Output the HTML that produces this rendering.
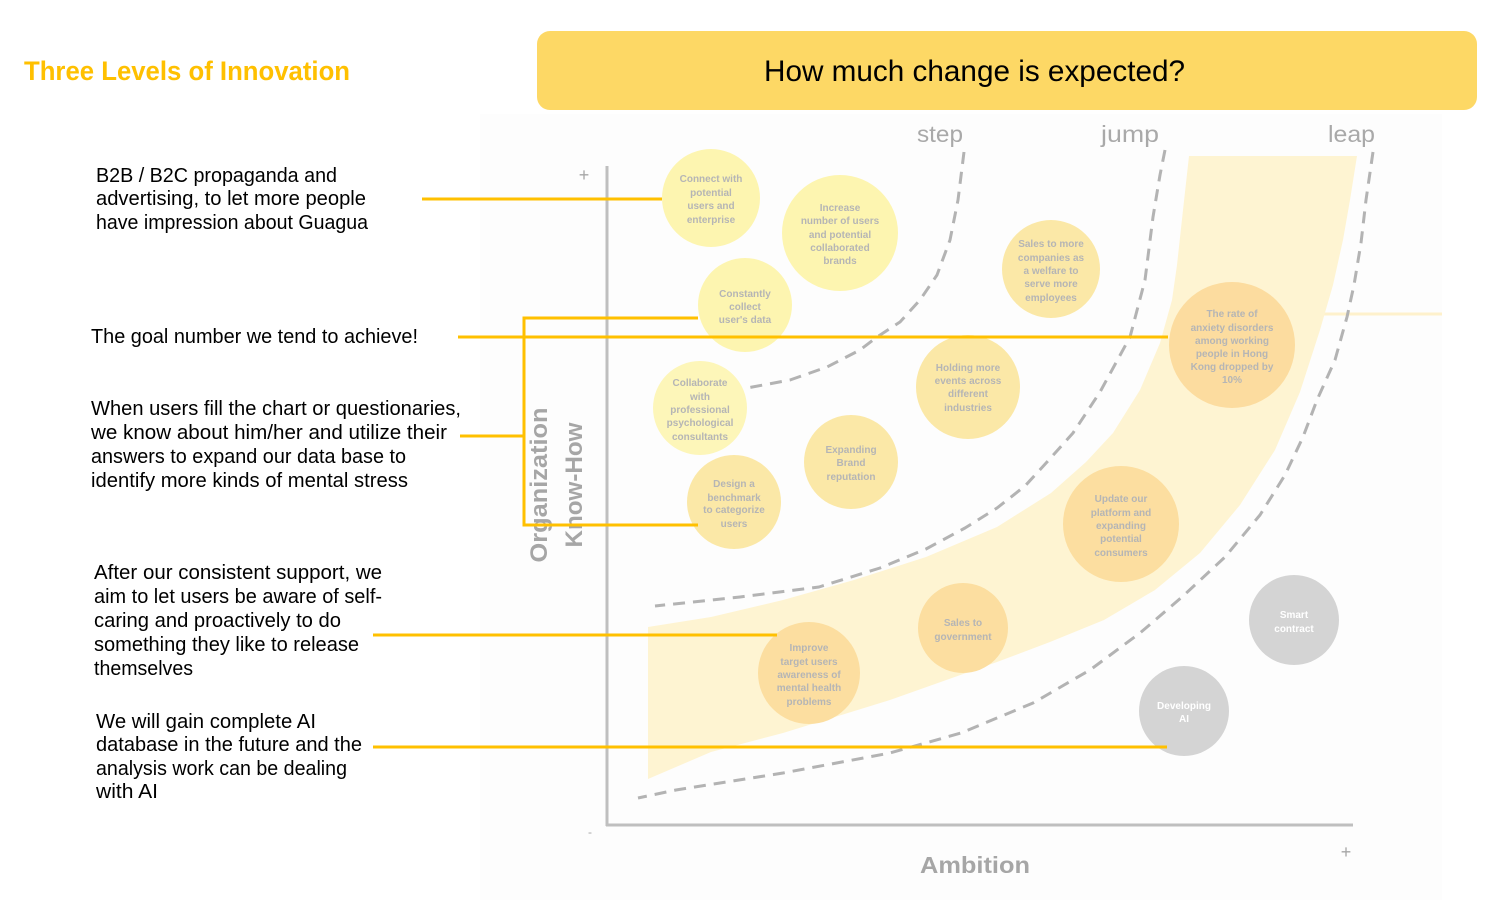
<!DOCTYPE html>
<html>
<head>
<meta charset="utf-8">
<style>
  html,body{margin:0;padding:0;background:#ffffff;}
  body{width:1500px;height:900px;overflow:hidden;}
  svg{display:block;}
  .lt{font-family:"Liberation Sans",sans-serif;font-size:20px;fill:#000;}
  .ct{font-family:"Liberation Sans",sans-serif;font-size:10px;font-weight:bold;fill:#b5b5b5;text-anchor:middle;}
  .cw{font-family:"Liberation Sans",sans-serif;font-size:10px;font-weight:bold;fill:#ffffff;text-anchor:middle;}
  .lv{font-family:"Liberation Sans",sans-serif;font-size:23px;fill:#a9a9a9;}
  .ax{font-family:"Liberation Sans",sans-serif;font-weight:bold;fill:#a6a6a6;}
</style>
</head>
<body>
<svg width="1500" height="900" viewBox="0 0 1500 900" xmlns="http://www.w3.org/2000/svg">
  <rect x="0" y="0" width="1500" height="900" fill="#ffffff"/>
  <!-- faint panel -->
  <rect x="480" y="114" width="962" height="786" fill="#fdfdfd"/>

  <!-- title -->
  <text x="24" y="80" font-family="Liberation Sans, sans-serif" font-size="27" font-weight="bold" fill="#FFC000" textLength="326" lengthAdjust="spacingAndGlyphs">Three Levels of Innovation</text>

  <!-- header box -->
  <rect x="537" y="31" width="940" height="79" rx="13" ry="13" fill="#FDD865"/>
  <text x="764" y="81" font-family="Liberation Sans, sans-serif" font-size="30" fill="#000" textLength="421" lengthAdjust="spacingAndGlyphs">How much change is expected?</text>

  <!-- level labels -->
  <text class="lv" x="917" y="142" textLength="46" lengthAdjust="spacingAndGlyphs">step</text>
  <text class="lv" x="1101" y="142" textLength="58" lengthAdjust="spacingAndGlyphs">jump</text>
  <text class="lv" x="1328" y="142" textLength="47" lengthAdjust="spacingAndGlyphs">leap</text>

  <!-- faint line at right -->
  <line x1="1322" y1="314" x2="1442" y2="314" stroke="#FEF1CC" stroke-width="3"/>

  <!-- band -->
  <polygon fill="#FEF4D2" points="648,627 711,617 783,600 854,580 926,557 997,527 1051,493 1086,462 1113,433 1140,390 1160,343 1172,300 1177,265 1183,210 1189,156 1357,156 1350,200 1343,240 1333,285 1320,330 1300,392 1275,450 1240,505 1200,553 1155,590 1104,620 1050,642 997,662 890,700 783,733 711,752 648,779"/>

  <!-- dashed curves -->
  <g fill="none" stroke="#b3b3b3" stroke-width="3" stroke-dasharray="12,8" stroke-linejoin="round">
    <polyline points="964,152 958,200 950,240 937,275 920,300 900,322 877,337 860,350 827,367 790,380 747,388"/>
    <polyline points="1165,150 1160,175 1153,217 1145,280 1130,337 1100,392 1073,433 1047,462 1025,486 997,508 965,528 926,549 880,568 819,587 740,597 655,606"/>
    <polyline points="1373,152 1366,200 1361,243 1354,285 1347,317 1335,360 1317,400 1303,437 1285,475 1260,515 1225,557 1182,597 1140,633 1090,670 1033,703 961,733 890,753 783,773 676,790 638,798"/>
  </g>

  <!-- axes -->
  <line x1="607" y1="166" x2="607" y2="826" stroke="#bfbfbf" stroke-width="3"/>
  <line x1="606" y1="825" x2="1353" y2="825" stroke="#bfbfbf" stroke-width="3"/>
  <text x="584" y="181" font-family="Liberation Sans, sans-serif" font-size="18" fill="#a6a6a6" text-anchor="middle">+</text>
  <text x="1346" y="858" font-family="Liberation Sans, sans-serif" font-size="18" fill="#a6a6a6" text-anchor="middle">+</text>
  <text x="590" y="836" font-family="Liberation Sans, sans-serif" font-size="12" fill="#a6a6a6" text-anchor="middle">-</text>
  <text class="ax" x="975" y="873" font-size="23" text-anchor="middle" textLength="110" lengthAdjust="spacingAndGlyphs">Ambition</text>
  <text class="ax" font-size="24" text-anchor="middle" transform="translate(547,485) rotate(-90)" textLength="155" lengthAdjust="spacingAndGlyphs">Organization</text>
  <text class="ax" font-size="24" text-anchor="middle" transform="translate(582,485) rotate(-90)" textLength="125" lengthAdjust="spacingAndGlyphs">Know-How</text>

  <!-- circles -->
  <circle cx="711" cy="198" r="49" fill="#FDF5B0"/>
  <circle cx="840" cy="233" r="58" fill="#FDF5B0"/>
  <circle cx="745" cy="305" r="47" fill="#FDF5B0"/>
  <circle cx="700" cy="408" r="47" fill="#FDF6B9"/>
  <circle cx="734" cy="502" r="47" fill="#FBE8A7"/>
  <circle cx="851" cy="462" r="47" fill="#FBE8A7"/>
  <circle cx="968" cy="387" r="52" fill="#FBE8A7"/>
  <circle cx="1051" cy="269" r="49" fill="#FBE8A7"/>
  <circle cx="1232" cy="345" r="63" fill="#FCDC9F"/>
  <circle cx="1121" cy="524" r="58" fill="#FCDEA0"/>
  <circle cx="963" cy="628" r="45" fill="#FCDEA0"/>
  <circle cx="809" cy="673" r="51" fill="#FCDEA0"/>
  <circle cx="1294" cy="620" r="45" fill="#D4D4D4"/>
  <circle cx="1184" cy="711" r="45" fill="#D4D4D4"/>

  <!-- circle texts -->
  <g class="ct">
    <text x="711" y="182">Connect with</text>
    <text x="711" y="196">potential</text>
    <text x="711" y="209">users and</text>
    <text x="711" y="223">enterprise</text>

    <text x="840" y="211">Increase</text>
    <text x="840" y="224">number of users</text>
    <text x="840" y="238">and potential</text>
    <text x="840" y="251">collaborated</text>
    <text x="840" y="264">brands</text>

    <text x="745" y="297">Constantly</text>
    <text x="745" y="310">collect</text>
    <text x="745" y="323">user's data</text>

    <text x="700" y="386">Collaborate</text>
    <text x="700" y="400">with</text>
    <text x="700" y="413">professional</text>
    <text x="700" y="426">psychological</text>
    <text x="700" y="440">consultants</text>

    <text x="734" y="487">Design a</text>
    <text x="734" y="501">benchmark</text>
    <text x="734" y="513">to categorize</text>
    <text x="734" y="527">users</text>

    <text x="851" y="453">Expanding</text>
    <text x="851" y="466">Brand</text>
    <text x="851" y="480">reputation</text>

    <text x="968" y="371">Holding more</text>
    <text x="968" y="384">events across</text>
    <text x="968" y="397">different</text>
    <text x="968" y="411">industries</text>

    <text x="1051" y="247">Sales to more</text>
    <text x="1051" y="261">companies as</text>
    <text x="1051" y="274">a welfare to</text>
    <text x="1051" y="287">serve more</text>
    <text x="1051" y="301">employees</text>

    <text x="1232" y="317">The rate of</text>
    <text x="1232" y="331">anxiety disorders</text>
    <text x="1232" y="344">among working</text>
    <text x="1232" y="357">people in Hong</text>
    <text x="1232" y="370">Kong dropped by</text>
    <text x="1232" y="383">10%</text>

    <text x="1121" y="502">Update our</text>
    <text x="1121" y="516">platform and</text>
    <text x="1121" y="529">expanding</text>
    <text x="1121" y="542">potential</text>
    <text x="1121" y="556">consumers</text>

    <text x="963" y="626">Sales to</text>
    <text x="963" y="640">government</text>

    <text x="809" y="651">Improve</text>
    <text x="809" y="665">target users</text>
    <text x="809" y="678">awareness of</text>
    <text x="809" y="691">mental health</text>
    <text x="809" y="705">problems</text>
  </g>
  <g class="cw">
    <text x="1294" y="618">Smart</text>
    <text x="1294" y="632">contract</text>
    <text x="1184" y="709">Developing</text>
    <text x="1184" y="722">AI</text>
  </g>

  <!-- left texts -->
  <g class="lt">
    <text x="96" y="182" textLength="241" lengthAdjust="spacingAndGlyphs">B2B / B2C propaganda and</text>
    <text x="96" y="205" textLength="270" lengthAdjust="spacingAndGlyphs">advertising, to let more people</text>
    <text x="96" y="229" textLength="272" lengthAdjust="spacingAndGlyphs">have impression about Guagua</text>

    <text x="91" y="343" textLength="327" lengthAdjust="spacingAndGlyphs">The goal number we tend to achieve!</text>

    <text x="91" y="415" textLength="370" lengthAdjust="spacingAndGlyphs">When users fill the chart or questionaries,</text>
    <text x="91" y="439" textLength="356" lengthAdjust="spacingAndGlyphs">we know about him/her and utilize their</text>
    <text x="91" y="463" textLength="315" lengthAdjust="spacingAndGlyphs">answers to expand our data base to</text>
    <text x="91" y="487" textLength="317" lengthAdjust="spacingAndGlyphs">identify more kinds of mental stress</text>

    <text x="94" y="579" textLength="288" lengthAdjust="spacingAndGlyphs">After our consistent support, we</text>
    <text x="94" y="603" textLength="288" lengthAdjust="spacingAndGlyphs">aim to let users be aware of self-</text>
    <text x="94" y="627" textLength="247" lengthAdjust="spacingAndGlyphs">caring and proactively to do</text>
    <text x="94" y="651" textLength="265" lengthAdjust="spacingAndGlyphs">something they like to release</text>
    <text x="94" y="675" textLength="99" lengthAdjust="spacingAndGlyphs">themselves</text>

    <text x="96" y="728" textLength="220" lengthAdjust="spacingAndGlyphs">We will gain complete AI</text>
    <text x="96" y="751" textLength="266" lengthAdjust="spacingAndGlyphs">database in the future and the</text>
    <text x="96" y="775" textLength="251" lengthAdjust="spacingAndGlyphs">analysis work can be dealing</text>
    <text x="96" y="798" textLength="62" lengthAdjust="spacingAndGlyphs">with AI</text>
  </g>

  <!-- orange connector lines -->
  <g stroke="#FFC000" stroke-width="3" fill="none">
    <line x1="422" y1="199" x2="662" y2="199"/>
    <line x1="458" y1="337" x2="1168" y2="337"/>
    <polyline points="698,318 524,318 524,525 698,525"/>
    <line x1="460" y1="436" x2="524" y2="436"/>
    <line x1="373" y1="635" x2="777" y2="635"/>
    <line x1="373" y1="747" x2="1167" y2="747"/>
  </g>
</svg>
</body>
</html>
